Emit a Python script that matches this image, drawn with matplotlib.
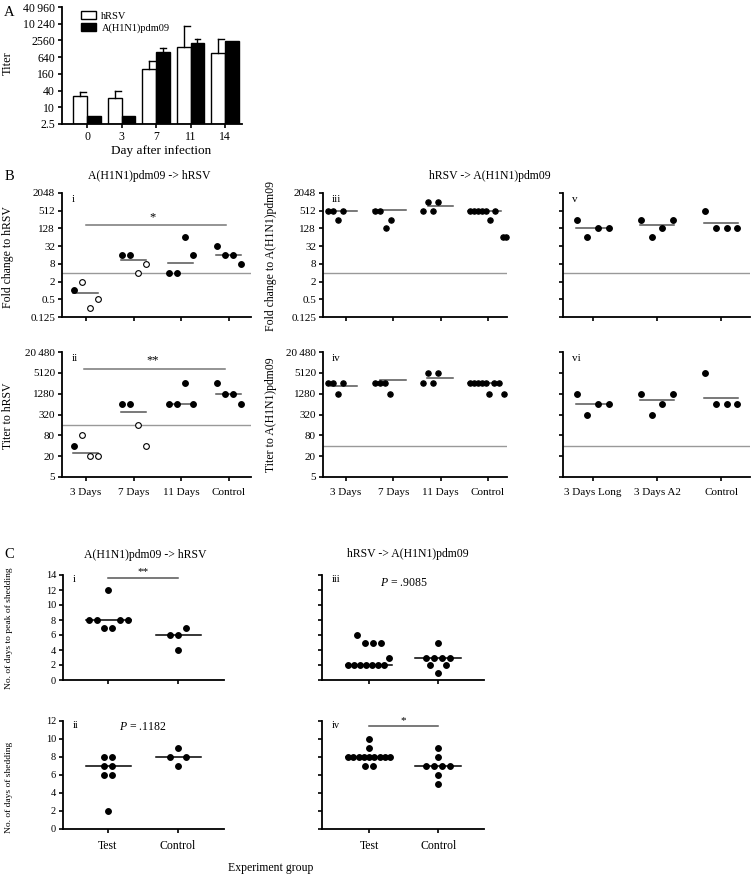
import numpy as np
import matplotlib
matplotlib.use("Agg")
import matplotlib.pyplot as plt
from matplotlib.patches import Patch

plt.rcParams["font.family"] = ["Liberation Serif", "DejaVu Serif"]
plt.rcParams["font.size"] = 8
plt.rcParams["axes.linewidth"] = 1.3
plt.rcParams["mathtext.fontset"] = "custom"
plt.rcParams["mathtext.it"] = "Liberation Serif:italic"
plt.rcParams["mathtext.rm"] = "Liberation Serif"

# ---------------- data ----------------
# Panel A: titers after infection
days = ["0", "3", "7", "11", "14"]
hrsv_titer = [26, 22, 230, 1500, 900]
hrsv_upper = [36, 40, 450, 8400, 2800]
h1n1_titer = [5, 5, 950, 2100, 2400]
h1n1_upper = [5, 5, 1400, 2800, 2400]

# Panel B i/ii: A(H1N1)pdm09 -> hRSV
b_groups = ["3 Days", "7 Days", "11 Days", "Control"]
fold_hrsv = [[1, 2, 0.25, 0.5], [16, 16, 4, 8], [4, 4, 64, 16], [32, 16, 16, 8]]
fold_hrsv_med = [0.8, 11, 8.5, 16]
titer_hrsv = [[40, 80, 20, 20], [640, 640, 160, 40], [640, 640, 2560, 640], [2560, 1280, 1280, 640]]
titer_hrsv_med = [25, 380, 640, 1280]
open_hrsv = [[0, 1, 1, 1], [0, 0, 1, 1], [0, 0, 0, 0], [0, 0, 0, 0]]

# Panel B iii/iv: hRSV -> A(H1N1)pdm09
fold_h1n1 = [[512, 512, 256, 512], [512, 512, 128, 256], [512, 1024, 512, 1024],
             [512, 512, 512, 512, 512, 256, 512, 64, 64]]
fold_h1n1_med = [512, 560, 760, 512]
titer_h1n1 = [[2560, 2560, 1280, 2560], [2560, 2560, 2560, 1280], [2560, 5120, 2560, 5120],
              [2560, 2560, 2560, 2560, 2560, 1280, 2560, 2560, 1280]]
titer_h1n1_med = [2200, 3200, 3600, 2560]

# Panel B v/vi
v_groups = ["3 Days Long", "3 Days A2", "Control"]
fold_v = [[256, 64, 128, 128], [256, 64, 128, 256], [512, 128, 128, 128]]
fold_v_med = [128, 170, 190]
titer_vi = [[1280, 320, 640, 640], [1280, 320, 640, 1280], [5120, 640, 640, 640]]
titer_vi_med = [640, 820, 940]

# Panel C: shedding
c_groups = ["Test", "Control"]
peak_hrsv = [[12, 8, 8, 7, 7, 8, 8], [6, 6, 7, 4]]
peak_hrsv_med = [8, 6]
dur_hrsv = [[8, 8, 7, 7, 6, 6, 2], [9, 8, 8, 7]]
dur_hrsv_med = [7, 8]
peak_h1n1 = [[2, 2, 2, 2, 2, 2, 2, 3, 5, 5, 5, 6], [5, 3, 3, 3, 3, 2, 2, 1]]
peak_h1n1_med = [2, 3]
dur_h1n1 = [[10, 9, 8, 8, 8, 8, 8, 8, 8, 8, 8, 7, 7], [9, 8, 7, 7, 7, 7, 6, 5]]
dur_h1n1_med = [8, 7]

# ---------------- layout (pixel offsets of dots inside a group) ----------------
off_b = [[-12, -4, 4, 12]] * 4
off_iii = [[-18, -13, -8, -3], [-18, -13, -7, -2], [-18, -13, -8, -3],
           [-18, -14, -10, -6, -2, 2, 7, 15, 18]]
med_iii = [(-19, 11), (-20, 13), (-13, 12), (-20, 13)]
off_iv = [[-18, -13, -8, -3], [-18, -13, -8, -3], [-18, -13, -8, -3],
          [-18, -14, -10, -6, -2, 1, 6, 11, 16]]
med_iv = [(-15, 11), (-13, 13), (-14, 12), (-20, 12)]
off_v = [[-16, -5.3, 5.3, 16]] * 3
off_peak_hrsv = [[0, -19, -11, -4, 4, 12, 20], [-8, 0, 8, 0]]
off_dur_hrsv = [[-4, 4, -4, 4, -4, 4, 0], [0, -8, 8, 0]]
off_peak_h1n1 = [[-21, -15, -9, -3, 3, 9, 15, 20, -4, 4, 12, -12], [0, -12, -4, 4, 12, -8, 8, 0]]
off_dur_h1n1 = [[0, 0, -21, -15.75, -10.5, -5.25, 0, 5.25, 10.5, 15.75, 21, -4.5, 3.5],
                [0, 0, -12, -4, 4, 12, 0, 0]]

W, H = 751, 876
fig = plt.figure(figsize=(W / 100, H / 100), dpi=100)


def px_axes(l, t, r, b):
    ax = fig.add_axes([l / W, 1 - b / H, (r - l) / W, (b - t) / H])
    ax.spines["top"].set_visible(False)
    ax.spines["right"].set_visible(False)
    ax.tick_params(direction="out", length=3, width=1.2, labelsize=8, pad=2)
    return ax


def ftext(x, y, s, **kw):
    kw.setdefault("ha", "center")
    kw.setdefault("va", "center")
    fig.text(x / W, 1 - y / H, s, **kw)


def dots(ax, vals, offs, spacing, meds, med_ext, opens=None, s=17, med_color="#444"):
    for i, (grp, off) in enumerate(zip(vals, offs)):
        xs = i + np.array(off[:len(grp)]) / spacing
        for j, (x, y) in enumerate(zip(xs, grp)):
            hollow = opens is not None and opens[i][j]
            ax.scatter(x, y, s=s, facecolor="white" if hollow else "black",
                       edgecolor="black", linewidth=0.8, zorder=3, clip_on=False)
        lo, hi = med_ext[i]
        ax.plot([i + lo / spacing, i + hi / spacing], [meds[i]] * 2,
                color=med_color, lw=1.1, zorder=2)


def log_axis(ax, ticks, labels):
    ax.set_yscale("log")
    ax.set_ylim(ticks[0], ticks[-1])
    ax.set_yticks(ticks)
    ax.set_yticklabels(labels)
    ax.minorticks_off()


# ---------------- Panel A ----------------
axA = px_axes(62, 7, 242, 124)
xa = np.arange(len(days))
bw = 0.4
axA.bar(xa - bw / 2, np.array(hrsv_titer) - 2.5, bottom=2.5, width=bw,
        color="white", edgecolor="black", lw=1, label="hRSV", zorder=2)
axA.bar(xa + bw / 2, np.array(h1n1_titer) - 2.5, bottom=2.5, width=bw,
        color="black", edgecolor="black", lw=1, label="A(H1N1)pdm09", zorder=2)
for x, v, u in zip(xa - bw / 2, hrsv_titer, hrsv_upper):
    if u > v:
        axA.plot([x, x], [v, u], color="black", lw=1)
        axA.plot([x, x + 0.17], [u, u], color="black", lw=1)
for x, v, u in zip(xa + bw / 2, h1n1_titer, h1n1_upper):
    if u > v:
        axA.plot([x, x], [v, u], color="black", lw=1)
        axA.plot([x - 0.085, x + 0.085], [u, u], color="black", lw=1)
a_ticks = [2.5, 10, 40, 160, 640, 2560, 10240, 40960]
log_axis(axA, a_ticks, ["2.5", "10", "40", "160", "640", "2560", "10\u2009240", "40\u2009960"])
axA.set_xlim(-0.725, 4.49)
axA.set_xticks(xa)
axA.set_xticklabels(days)
axA.tick_params(labelsize=8.5)
axA.legend(handles=[Patch(facecolor="white", edgecolor="black", label="hRSV"),
                    Patch(facecolor="black", edgecolor="black", label="A(H1N1)pdm09")],
           loc="upper left", bbox_to_anchor=(0.08, 1.0), frameon=False, fontsize=7.5,
           handlelength=1.5, handleheight=0.8, labelspacing=0.25, borderaxespad=0,
           handletextpad=0.5)
ftext(8, 63, "Titer", rotation=90, fontsize=9)
ftext(161, 151, "Day after infection", fontsize=9.5)
ftext(9, 13, "A", fontsize=10.5)

# ---------------- Panel B ----------------
fold_ticks = [0.125, 0.5, 2, 8, 32, 128, 512, 2048]
fold_labels = ["0.125", "0.5", "2", "8", "32", "128", "512", "2048"]
titer_ticks = [5, 20, 80, 320, 1280, 5120, 20480]
titer_labels = ["5", "20", "80", "320", "1280", "5120", "20\u2009480"]
gray = "#999999"

# B i
sp = 47.7
ax = px_axes(62, 193, 251, 317)
dots(ax, fold_hrsv, off_b, sp, fold_hrsv_med, [(-13, 12)] * 4, open_hrsv, med_color="#555")
log_axis(ax, fold_ticks, fold_labels)
ax.axhline(4, color=gray, lw=1)
ax.plot([0, 2.93], [165, 165], color="#777", lw=1.1)
ax.text(1.4, 190, "*", ha="center", va="bottom", fontsize=9)
ax.set_xlim(-24 / sp, 3 + 22 / sp)
ax.set_xticks(range(4))
ax.set_xticklabels([])
ax.text(0.05, 0.985, "i", transform=ax.transAxes, va="top", fontsize=8)

# B ii
ax = px_axes(62, 352, 251, 477)
dots(ax, titer_hrsv, off_b, sp, titer_hrsv_med, [(-13, 12)] * 4, open_hrsv, med_color="#555")
log_axis(ax, titer_ticks, titer_labels)
ax.axhline(160, color=gray, lw=1)
ax.plot([-0.04, 2.91], [6800, 6800], color="#777", lw=1.1)
ax.text(1.4, 7800, "**", ha="center", va="bottom", fontsize=9)
ax.set_xlim(-24 / sp, 3 + 22 / sp)
ax.set_xticks(range(4))
ax.set_xticklabels(b_groups)
ax.tick_params(axis="x", pad=5)
ax.text(0.05, 0.985, "ii", transform=ax.transAxes, va="top", fontsize=8)

# B iii
sp = 47.3
ax = px_axes(323, 193, 507, 317)
dots(ax, fold_h1n1, off_iii, sp, fold_h1n1_med, med_iii, s=15, med_color="#555")
log_axis(ax, fold_ticks, fold_labels)
ax.axhline(4, color=gray, lw=1)
ax.set_xlim(-23 / sp, 3 + 19 / sp)
ax.set_xticks(range(4))
ax.set_xticklabels([])
ax.text(0.05, 0.985, "iii", transform=ax.transAxes, va="top", fontsize=8)

# B iv
ax = px_axes(323, 352, 507, 477)
dots(ax, titer_h1n1, off_iv, sp, titer_h1n1_med, med_iv, s=15, med_color="#555")
log_axis(ax, titer_ticks, titer_labels)
ax.axhline(40, color=gray, lw=1)
ax.set_xlim(-23 / sp, 3 + 19 / sp)
ax.set_xticks(range(4))
ax.set_xticklabels(b_groups)
ax.tick_params(axis="x", pad=5)
ax.text(0.05, 0.985, "iv", transform=ax.transAxes, va="top", fontsize=8)

# B v
sp = 64.3
ax = px_axes(563, 193, 750, 317)
dots(ax, fold_v, off_v, sp, fold_v_med, [(-17, 17)] * 3, med_color="#555")
log_axis(ax, fold_ticks, [])
ax.axhline(4, color=gray, lw=1)
ax.set_xlim(-29.7 / sp, 2 + 28.7 / sp)
ax.set_xticks(range(3))
ax.set_xticklabels([])
ax.text(0.05, 0.985, "v", transform=ax.transAxes, va="top", fontsize=8)

# B vi
ax = px_axes(563, 352, 750, 477)
dots(ax, titer_vi, off_v, sp, titer_vi_med, [(-17, 17)] * 3, med_color="#555")
log_axis(ax, titer_ticks, [])
ax.axhline(40, color=gray, lw=1)
ax.set_xlim(-29.7 / sp, 2 + 28.7 / sp)
ax.set_xticks(range(3))
ax.set_xticklabels(v_groups)
ax.tick_params(axis="x", pad=5)
ax.text(0.05, 0.985, "vi", transform=ax.transAxes, va="top", fontsize=8)

ftext(9, 176, "B", fontsize=10.5)
ftext(149, 176, "A(H1N1)pdm09 -> hRSV", fontsize=8.5)
ftext(490, 176, "hRSV -> A(H1N1)pdm09", fontsize=8.5)
ftext(8, 257, "Fold change to hRSV", rotation=90, fontsize=8.5)
ftext(8, 416, "Titer to hRSV", rotation=90, fontsize=8.5)
ftext(271, 256, "Fold change to A(H1N1)pdm09", rotation=90, fontsize=8.5)
ftext(271, 415, "Titer to A(H1N1)pdm09", rotation=90, fontsize=8.5)

# ---------------- Panel C ----------------
def c_axes(l, t, r, b, tick_l, tick_r, top):
    ax = px_axes(l, t, r, b)
    sp = tick_r - tick_l
    ax.set_xlim(-(tick_l - l) / sp, 1 + (r - tick_r) / sp)
    ax.set_ylim(0, top)
    ax.set_yticks(range(0, top + 1, 2))
    ax.set_xticks([0, 1])
    ax.tick_params(labelsize=7.5)
    return ax, sp


ax, sp = c_axes(63, 575, 224, 680, 108, 178, 14)
dots(ax, peak_hrsv, off_peak_hrsv, sp, peak_hrsv_med, [(-22, 23)] * 2, med_color="black")
ax.set_xticklabels([])
ax.plot([0, 1], [13.6, 13.6], color="#555", lw=1.1, clip_on=False)
ax.text(0.5, 13.9, "**", ha="center", va="bottom", fontsize=8)
ax.text(0.06, 1.0, "i", transform=ax.transAxes, va="top", fontsize=7.5)

ax, sp = c_axes(63, 721, 224, 829, 108, 178, 12)
dots(ax, dur_hrsv, off_dur_hrsv, sp, dur_hrsv_med, [(-22, 23)] * 2, med_color="black")
ax.set_xticklabels(c_groups, fontsize=8.5)
ax.tick_params(axis="x", pad=5)
ax.text(0.06, 1.0, "ii", transform=ax.transAxes, va="top", fontsize=7.5)
ax.text(0.5, 11.3, r"$P$ = .1182", ha="center", va="center", fontsize=8.5)

ax, sp = c_axes(322, 575, 484, 680, 369, 438.3, 14)
dots(ax, peak_h1n1, off_peak_h1n1, sp, peak_h1n1_med, [(-23, 23)] * 2, med_color="black")
ax.set_xticklabels([])
ax.set_yticklabels([])
ax.text(0.06, 1.0, "iii", transform=ax.transAxes, va="top", fontsize=7.5)
ax.text(0.5, 12.9, r"$P$ = .9085", ha="center", va="center", fontsize=8.5)

ax, sp = c_axes(322, 721, 484, 829, 369, 438.3, 12)
dots(ax, dur_h1n1, off_dur_h1n1, sp, dur_h1n1_med, [(-23, 23)] * 2, med_color="black")
ax.set_xticklabels(c_groups, fontsize=8.5)
ax.set_yticklabels([])
ax.tick_params(axis="x", pad=5)
ax.plot([0, 1], [11.4, 11.4], color="#555", lw=1.1, clip_on=False)
ax.text(0.5, 11.5, "*", ha="center", va="bottom", fontsize=8)
ax.text(0.06, 1.0, "iv", transform=ax.transAxes, va="top", fontsize=7.5)

ftext(9, 555, "C", fontsize=10.5)
ftext(145, 555, "A(H1N1)pdm09 -> hRSV", fontsize=8.5)
ftext(408, 554, "hRSV -> A(H1N1)pdm09", fontsize=8.5)
ftext(9, 628, "No. of days to peak of shedding", rotation=90, fontsize=6.8)
ftext(9, 787, "No. of days of shedding", rotation=90, fontsize=6.8)
ftext(271, 868, "Experiment group", fontsize=8.5)

fig.savefig("out.png", dpi=100)
